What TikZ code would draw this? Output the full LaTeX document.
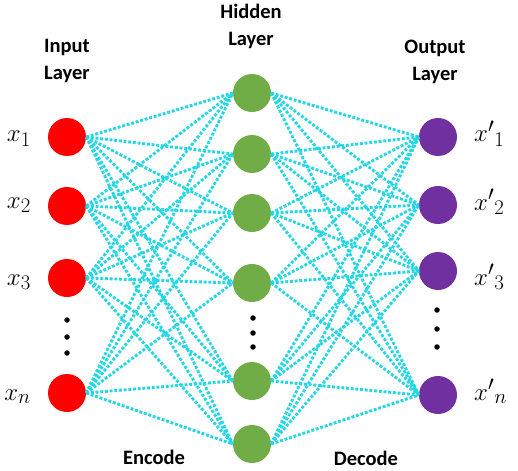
\documentclass[tikz,border=0pt]{standalone}
\usepackage{fontspec}
\setmainfont{Carlito}
\begin{document}
\begin{tikzpicture}[x=1pt,y=-1pt,
  neuron/.style={circle,draw=none,inner sep=0pt,minimum size=38pt},
  inp/.style={neuron,fill=inred},
  hid/.style={neuron,fill=hidgreen},
  outp/.style={neuron,fill=outpurple},
  link/.style={draw=linkcyan,line width=2.9pt,dash pattern=on 2.9pt off 1.8pt},
  vdot/.style={circle,fill=black,inner sep=0pt,minimum size=5.5pt},
  title/.style={font=\fontsize{20.5}{27}\selectfont\bfseries,align=center,inner sep=0pt},
  mlab/.style={font=\fontsize{31}{31}\selectfont,inner sep=0pt}]
\definecolor{inred}{RGB}{255,0,0}
\definecolor{hidgreen}{RGB}{112,173,71}
\definecolor{outpurple}{RGB}{112,48,160}
\definecolor{linkcyan}{RGB}{35,215,230}
\useasboundingbox (0,0) rectangle (518,470);
% input layer
\node[inp] (i1) at (67,137) {};
\node[inp] (i2) at (67,206) {};
\node[inp] (i3) at (67,278) {};
\node[inp] (in) at (67,393) {};
% hidden layer
\node[hid] (h1) at (252,93) {};
\node[hid] (h2) at (252,154) {};
\node[hid] (h3) at (252,213) {};
\node[hid] (h4) at (252,283) {};
\node[hid] (h5) at (252,381) {};
\node[hid] (h6) at (252,444) {};
% output layer
\node[outp] (o1) at (438,137) {};
\node[outp] (o2) at (438,205) {};
\node[outp] (o3) at (438,271) {};
\node[outp] (on) at (438,395) {};
% connections
\foreach \a in {i1,i2,i3,in}
  \foreach \b in {h1,h2,h3,h4,h5,h6}
    \draw[link] (\a.east) -- (\b.west);
\foreach \a in {h1,h2,h3,h4,h5,h6}
  \foreach \b in {o1,o2,o3,on}
    \draw[link] (\a.east) -- (\b.west);
% ellipsis dots
\node[vdot] (di1) at (67,320) {};
\node[vdot] (di2) at (67,337) {};
\node[vdot] (di3) at (67,353) {};
\node[vdot] (dh1) at (253,318) {};
\node[vdot] (dh2) at (253,333) {};
\node[vdot] (dh3) at (253,347) {};
\node[vdot] (do1) at (437,310) {};
\node[vdot] (do2) at (437,329) {};
\node[vdot] (do3) at (437,347) {};
% titles
\node[title] (tin) at (67,61) {Input\\Layer};
\node[title] (thid) at (251,26) {Hidden\\Layer};
\node[title] (tout) at (435,62) {Output\\Layer};
\node[title] (tenc) at (154,457) {Encode};
\node[title] (tdec) at (366,458) {Decode};
% variable labels
\node[mlab,anchor=base east] (lx1) at (31,142) {$x_1$};
\node[mlab,anchor=base east] (lx2) at (31,208) {$x_2$};
\node[mlab,anchor=base east] (lx3) at (31,285) {$x_3$};
\node[mlab,anchor=base east] (lxn) at (31,400) {$x_n$};
\node[mlab,anchor=base west] (ly1) at (474,142) {${x'}_1$};
\node[mlab,anchor=base west] (ly2) at (474,210) {${x'}_2$};
\node[mlab,anchor=base west] (ly3) at (474,285) {${x'}_3$};
\node[mlab,anchor=base west] (lyn) at (474,400) {${x'}_n$};
\end{tikzpicture}
\end{document}
